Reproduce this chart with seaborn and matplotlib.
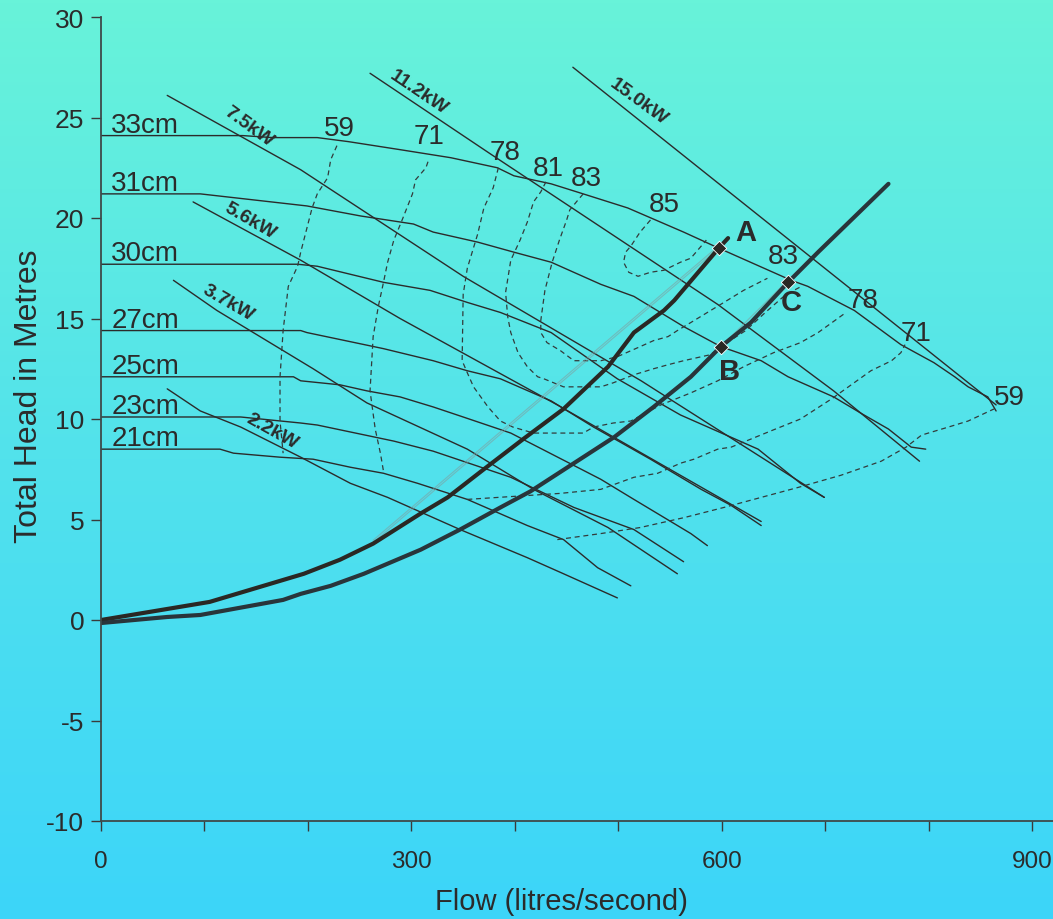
import numpy as np
import pandas as pd
import seaborn as sns
import matplotlib.pyplot as plt
from matplotlib.colors import LinearSegmentedColormap

# impeller curves: flow (l/s) and head (m)
q33 = [0, 137, 166, 209, 239, 289, 338, 383, 399, 435, 466, 509, 563, 597, 667, 683, 728, 773, 805, 825, 838, 857, 865]
h33 = [24.1, 24.1, 24.0, 24.0, 23.8, 23.4, 23.0, 22.5, 22.1, 21.7, 21.2, 20.5, 19.3, 18.5, 16.9, 16.6, 15.4, 13.7, 12.8, 12.1, 11.6, 11.1, 10.4]
q31 = [0, 96, 199, 251, 302, 321, 364, 399, 435, 483, 515, 563, 599, 638, 664, 708, 734, 761, 783, 797]
h31 = [21.2, 21.2, 20.6, 20.1, 19.7, 19.3, 18.8, 18.3, 17.8, 16.7, 16.1, 14.6, 13.6, 12.9, 12.1, 11.1, 10.3, 9.5, 8.6, 8.5]
q30 = [0, 190, 209, 273, 318, 354, 386, 435, 499, 560, 635, 676, 699]
h30 = [17.7, 17.7, 17.6, 16.8, 16.4, 15.8, 15.3, 14.3, 12.0, 10.2, 8.5, 6.8, 6.1]
q27 = [0, 193, 199, 273, 321, 354, 386, 435, 476, 531, 580, 609, 638]
h27 = [14.4, 14.4, 14.3, 13.5, 12.9, 12.4, 12.0, 10.9, 9.6, 8.0, 6.5, 5.7, 4.7]
q25 = [0, 186, 193, 231, 257, 289, 321, 350, 396, 483, 515, 570, 586]
h25 = [12.1, 12.1, 11.9, 11.7, 11.4, 11.1, 10.6, 10.1, 9.3, 7.0, 6.0, 4.3, 3.7]
q23 = [0, 135, 193, 209, 283, 321, 396, 457, 515, 563]
h23 = [10.1, 10.1, 9.8, 9.7, 8.9, 8.4, 7.1, 5.6, 4.5, 2.9]
q21 = [0, 115, 128, 173, 205, 241, 273, 306, 354, 412, 447, 480, 512]
h21 = [8.5, 8.5, 8.3, 8.1, 8.0, 7.6, 7.3, 6.8, 6.0, 4.7, 4.0, 2.6, 1.7]
impeller_names = ['33cm', '31cm', '30cm', '27cm', '25cm', '23cm', '21cm']

# power lines
p22_q = [64, 96, 135, 193, 241, 277, 347, 412, 447, 499]
p22_h = [11.5, 10.4, 9.6, 8.1, 6.8, 6.1, 4.5, 3.1, 2.3, 1.1]
p37_q = [70, 112, 144, 205, 257, 354, 418, 490, 557]
p37_h = [16.9, 15.4, 14.4, 12.5, 10.8, 8.5, 6.5, 4.6, 2.3]
p56_q = [89, 193, 289, 441, 638]
p56_h = [20.8, 17.9, 15.0, 10.7, 4.9]
p75_q = [64, 193, 350, 522, 699]
p75_h = [26.1, 22.4, 17.1, 11.9, 6.1]
p112_q = [260, 376, 596, 708, 791]
p112_h = [27.2, 23.2, 15.7, 11.4, 7.9]
p150_q = [456, 865]
p150_h = [27.5, 10.7]
power_names = ['2.2kW', '3.7kW', '5.6kW', '7.5kW', '11.2kW', '15.0kW']

# efficiency contours (%)
e59a_q = [228, 222, 219, 209, 204, 199, 193, 190, 181, 176, 173, 173, 176]
e59a_h = [23.6, 22.9, 22.0, 21.2, 20.5, 19.5, 18.3, 17.6, 16.6, 14.4, 12.1, 9.9, 8.3]
e59b_q = [441, 483, 521, 564, 602, 638, 674, 715, 754, 778, 793, 819, 838, 863]
e59b_h = [4.0, 4.3, 4.6, 5.1, 5.6, 6.1, 6.6, 7.2, 7.9, 8.6, 9.2, 9.6, 9.9, 10.5]
e71a_q = [316, 314, 304, 301, 291, 283, 277, 273, 268, 263, 260, 265, 270, 273]
e71a_h = [22.8, 22.5, 21.9, 21.2, 19.9, 18.9, 17.8, 16.8, 15.6, 14.1, 11.4, 9.5, 8.3, 7.4]
e71b_q = [354, 444, 483, 515, 538, 560, 573, 596, 609, 647, 676, 706, 725, 744, 764, 773, 777]
e71b_h = [6.0, 6.3, 6.5, 7.1, 7.3, 7.8, 8.0, 8.5, 8.6, 9.4, 10.0, 11.0, 11.7, 12.4, 12.9, 13.3, 13.7]
e78_q = [384, 379, 370, 364, 354, 350, 349, 354, 360, 374, 386, 398, 418, 466, 476, 495, 512, 541, 570, 596, 621, 650, 676, 693, 720]
e78_h = [22.5, 21.5, 20.5, 19.2, 17.5, 16.2, 12.9, 12.3, 11.6, 10.6, 9.9, 9.6, 9.3, 9.3, 9.6, 9.8, 9.9, 10.7, 11.3, 11.9, 12.6, 13.3, 13.8, 14.3, 15.3]
e81_q = [430, 425, 418, 412, 405, 396, 391, 393, 396, 403, 412, 422, 428, 447, 483, 495, 515, 534, 548, 563, 589, 599, 623, 642, 662, 677]
e81_h = [21.8, 21.3, 20.8, 19.8, 18.9, 17.9, 16.3, 15.1, 14.3, 13.3, 12.6, 12.1, 12.0, 11.6, 11.6, 11.8, 12.2, 12.5, 12.7, 12.9, 13.2, 13.6, 14.4, 15.3, 16.2, 16.6]
e83_q = [466, 461, 453, 450, 443, 436, 429, 425, 425, 431, 444, 457, 483, 499, 521, 534, 548, 557, 570, 586, 602, 621, 644]
e83_h = [21.2, 20.9, 20.4, 19.9, 18.9, 17.8, 16.4, 14.9, 14.3, 13.8, 13.4, 12.9, 12.9, 13.1, 13.6, 13.9, 14.1, 14.4, 14.8, 15.3, 15.8, 16.4, 17.0]
e85_q = [531, 521, 512, 507, 505, 510, 519, 531, 544, 560, 570, 580, 585]
e85_h = [19.9, 19.3, 18.6, 18.3, 17.8, 17.3, 17.1, 17.3, 17.4, 17.8, 18.0, 18.6, 18.9]
eff_labels = ['59', '71', '78', '81', '83', '85', '83', '78', '71', '59']

# system curves
sysA_q = [0, 105, 196, 231, 263, 309, 335, 370, 408, 447, 490, 515, 544, 554, 597, 606]
sysA_h = [0.0, 0.9, 2.3, 3.0, 3.8, 5.3, 6.1, 7.5, 9.0, 10.5, 12.6, 14.3, 15.4, 15.9, 18.5, 19.0]
sysB_q = [0, 64, 96, 176, 193, 222, 254, 309, 347, 386, 415, 457, 496, 534, 570, 599, 628, 664, 693, 725, 761]
sysB_h = [-0.15, 0.15, 0.25, 1.0, 1.3, 1.7, 2.3, 3.5, 4.5, 5.6, 6.4, 7.8, 9.1, 10.6, 12.1, 13.6, 14.8, 16.8, 18.3, 19.9, 21.7]
guide_q = [263, 597]
guide_h = [3.85, 18.5]
guide2_q = [599, 705]
guide2_h = [13.6, 19.0]
points = ['A', 'B', 'C']
points_q = [597, 599, 664]
points_h = [18.5, 13.6, 16.8]

ink = '#2b2b2b'
sns.set_theme(style='white')
plt.rcParams['font.family'] = ['Liberation Sans', 'DejaVu Sans']
plt.rcParams['axes.unicode_minus'] = False

fig = plt.figure(figsize=(10.53, 9.2), dpi=100)
bg = fig.add_axes([0, 0, 1, 1], zorder=-5)
grad = np.linspace(0, 1, 256).reshape(-1, 1)
cmap = LinearSegmentedColormap.from_list('bg', ['#3cd5f9', '#52e2ec', '#68f3d9'])
bg.imshow(grad, aspect='auto', cmap=cmap, origin='lower', extent=[0, 1, 0, 1])
bg.axis('off')

ax = fig.add_axes([101 / 1053, 1 - 822 / 920, 952 / 1053, 804 / 920])
ax.set_facecolor('none')


def draw(q, h, **kw):
    sns.lineplot(x=q, y=h, sort=False, estimator=None, ax=ax, legend=False, **kw)


imp_q = [q33, q31, q30, q27, q25, q23, q21]
imp_h = [h33, h31, h30, h27, h25, h23, h21]
for q, h in zip(imp_q, imp_h):
    draw(q, h, color=ink, lw=1.0)

pow_q = [p22_q, p37_q, p56_q, p75_q, p112_q, p150_q]
pow_h = [p22_h, p37_h, p56_h, p75_h, p112_h, p150_h]
for q, h in zip(pow_q, pow_h):
    draw(q, h, color=ink, lw=1.0)

for q, h in [(e59a_q, e59a_h), (e59b_q, e59b_h), (e71a_q, e71a_h), (e71b_q, e71b_h),
             (e78_q, e78_h), (e81_q, e81_h), (e83_q, e83_h), (e85_q, e85_h)]:
    draw(q, h, color='#333b3b', lw=0.9, linestyle=(0, (4, 3)))

# faint guide lines
draw(guide_q, guide_h, color='#7f9fa0', lw=0.8, alpha=0.6)
draw(guide_q, [v + 0.12 for v in guide_h], color='#7f9fa0', lw=0.8, alpha=0.6)
draw(guide2_q, guide2_h, color='#7f9fa0', lw=0.8, alpha=0.6)

draw(sysA_q, sysA_h, color='#2a2824', lw=3.0)
draw(sysB_q, sysB_h, color='#29353b', lw=3.0)
sns.scatterplot(x=points_q, y=points_h, marker='D', s=55, color='#2a2824', ax=ax, zorder=5, legend=False)

# labels
fs = 20
for name, q, h in zip(impeller_names, imp_q, imp_h):
    ax.text(10, h[0] + 0.2, name, fontsize=fs, color=ink, va='baseline', ha='left')

eff_pos_q = [230, 317, 390, 432, 469, 544, 659, 736, 788, 878]
eff_pos_h = [24.5, 24.1, 23.3, 22.5, 22.0, 20.7, 18.1, 15.9, 14.3, 11.1]
for t, q, h in zip(eff_labels, eff_pos_q, eff_pos_h):
    ax.text(q, h, t, fontsize=fs, color=ink, ha='center', va='center')

pw_pos_q = [165, 123, 144, 143, 307, 519]
pw_pos_h = [9.4, 15.8, 19.9, 24.6, 26.3, 25.8]
pw_rot = [-29, -30, -30, -36, -34, -36]
for t, q, h, r in zip(power_names, pw_pos_q, pw_pos_h, pw_rot):
    ax.text(q, h, t, fontsize=14, fontweight='heavy', color=ink, ha='center', va='center',
            rotation=r, rotation_mode='anchor')

pt_pos_q = [623, 607, 667]
pt_pos_h = [19.3, 12.4, 15.8]
for t, q, h in zip(points, pt_pos_q, pt_pos_h):
    ax.text(q, h, t, fontsize=21, fontweight='bold', color=ink, ha='center', va='center')

ax.set_xlim(0, 920)
ax.set_ylim(-10, 30)
ax.set_xticks(range(0, 901, 100))
ax.set_xticklabels(['0', '', '', '300', '', '', '600', '', '', '900'], fontsize=17.5)
ax.set_yticks(range(-10, 31, 5))
ax.tick_params(axis='y', labelsize=19, direction='out', length=7, width=1, color='#3a3a3a',
               labelcolor=ink, pad=5, left=True)
ax.tick_params(axis='x', direction='out', length=7, width=1, color='#3a3a3a',
               labelcolor=ink, pad=14, bottom=True)
for s in ['top', 'right']:
    ax.spines[s].set_visible(False)
for s in ['left', 'bottom']:
    ax.spines[s].set_color('#3e4a4a')
    ax.spines[s].set_linewidth(1.3)

ax.set_xlabel('Flow (litres/second)', fontsize=21, color=ink)
ax.set_ylabel('Total Head in Metres', fontsize=23, color=ink)
ax.xaxis.set_label_coords(0.484, -0.082)
ax.yaxis.set_label_coords(-0.06, 0.53)

fig.savefig('out.png', dpi=100)
